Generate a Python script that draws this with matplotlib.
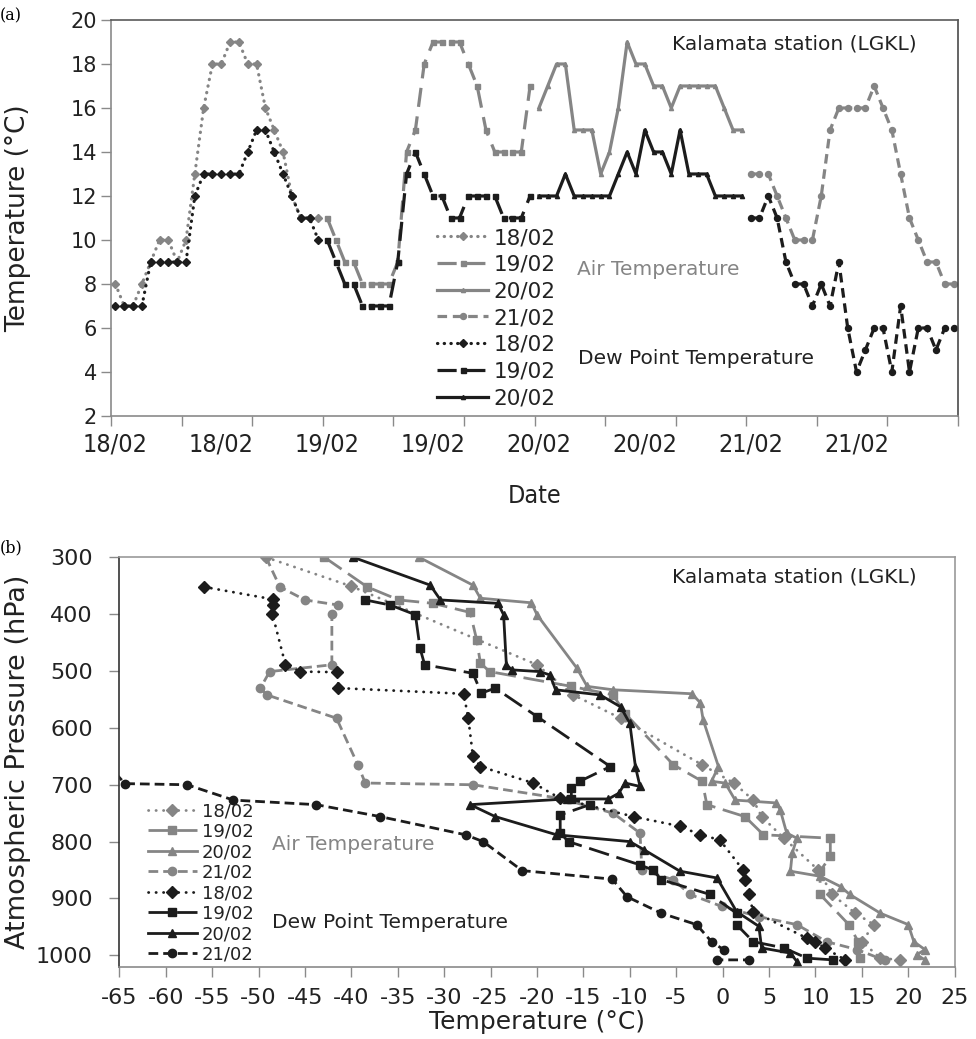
import numpy as np
import matplotlib
matplotlib.use('Agg')
import matplotlib.pyplot as plt
from matplotlib import font_manager
from matplotlib.ticker import FixedLocator, FixedFormatter, NullFormatter

plt.rcParams['font.family'] = ['DejaVu Sans']
plt.rcParams['axes.unicode_minus'] = False

_fonts = font_manager.fontManager.ttflist
_names = {f.name for f in _fonts}
HAS_NARROW = 'Liberation Sans Narrow' in _names
HAS_COND = any(f.name == 'DejaVu Sans' and str(f.stretch) in ('condensed', 'semi-condensed', '600', '700')
               for f in _fonts)
if HAS_NARROW:
    NARROW, STRETCH, NARROW_SIZE, DATE_SIZE = 'Liberation Sans Narrow', 'normal', 21, 20
elif HAS_COND:
    NARROW, STRETCH, NARROW_SIZE, DATE_SIZE = 'DejaVu Sans', 'condensed', 18, 18
else:
    NARROW, STRETCH, NARROW_SIZE, DATE_SIZE = 'DejaVu Sans', 'normal', 16, 17

# ---------------- panel (a): hourly surface observations ----------------
date_labels = ['18/02', '18/02', '19/02', '19/02', '20/02', '20/02', '21/02', '21/02']
day_names = ['18/02', '19/02', '20/02', '21/02']
hours_per_day = 24

air_1802 = [8, 7, 7, 8, 9, 10, 10, 9, 10, 13, 16, 18, 18, 19, 19, 18, 18, 16, 15, 14, 12, 11, 11, 11]
air_1902 = [11, 10, 9, 9, 8, 8, 8, 8, 9, 14, 15, 18, 19, 19, 19, 19, 18, 17, 15, 14, 14, 14, 14, 17]
air_2002 = [16, 17, 18, 18, 15, 15, 15, 13, 14, 16, 19, 18, 18, 17, 17, 16, 17, 17, 17, 17, 17, 16, 15, 15]
air_2102 = [13, 13, 13, 12, 11, 10, 10, 10, 12, 15, 16, 16, 16, 16, 17, 16, 15, 13, 11, 10, 9, 9, 8, 8]

dew_1802 = [7, 7, 7, 7, 9, 9, 9, 9, 9, 12, 13, 13, 13, 13, 13, 14, 15, 15, 14, 13, 12, 11, 11, 10]
dew_1902 = [10, 9, 8, 8, 7, 7, 7, 7, 9, 13, 14, 13, 12, 12, 11, 11, 12, 12, 12, 12, 11, 11, 11, 12]
dew_2002 = [12, 12, 12, 13, 12, 12, 12, 12, 12, 13, 14, 13, 15, 14, 14, 13, 15, 13, 13, 13, 12, 12, 12, 12]
dew_2102 = [11, 11, 12, 11, 9, 8, 8, 7, 8, 7, 9, 6, 4, 5, 6, 6, 4, 7, 4, 6, 6, 5, 6, 6]

# ---------------- panel (b): radiosonde profiles (T in degC, P in hPa) ----------------
air_1802_T = [-49.2, -40.0, -20.0, -16.1, -11.0, -2.2, 1.2, 3.3, 4.2, 6.6, 10.3, 11.8, 14.3, 16.3, 15.0, 17.0, 19.1]
air_1802_P = [300, 351, 489, 542, 583, 665, 697, 727, 756, 794, 850, 893, 926, 946, 976, 1005, 1008]

air_1902_T = [-42.9, -38.3, -34.9, -31.2, -27.2, -26.5, -26.1, -25.1, -16.3, -11.8, -10.5, -5.3, -2.2, -1.7,
              2.4, 4.4, 11.6, 11.6, 10.5, 10.5, 13.6, 14.6, 14.8]
air_1902_P = [300, 352, 375, 381, 397, 445, 486, 501, 527, 542, 575, 665, 694, 735,
              756, 788, 794, 826, 852, 893, 946, 976, 1005]

air_2002_T = [-32.7, -26.9, -26.1, -20.6, -20.0, -15.7, -14.6, -11.8, -3.3, -2.4, -2.1, -0.45, -1.2, 0.27,
              1.35, 5.8, 6.2, 6.9, 8.0, 7.5, 7.3, 10.5, 12.7, 13.7, 17.0, 20.0, 20.6, 21.8, 20.9, 21.8]
air_2002_P = [300, 349, 372, 380, 401, 495, 527, 533, 540, 556, 586, 668, 694, 697,
              727, 732, 744, 785, 794, 820, 852, 861, 879, 893, 926, 946, 976, 990, 999, 1008]

air_2102_T = [-49.2, -47.7, -45.0, -41.4, -42.1, -42.1, -48.8, -49.8, -49.1, -41.6, -39.3, -38.5, -26.9,
              -17.5, -11.8, -8.9, -8.7, -5.3, -3.5, -0.1, 3.9, 8.0, 11.2, 14.5, 17.5]
air_2102_P = [300, 352, 375, 384, 400, 489, 501, 530, 542, 583, 665, 697, 700,
              724, 750, 785, 850, 867, 893, 914, 932, 946, 976, 990, 1009]

dew_1802_T = [-55.9, -48.4, -48.4, -48.5, -47.1, -45.5, -41.5, -41.4, -27.9, -27.4, -26.9, -26.1, -20.4,
              -17.5, -9.6, -4.6, -2.4, -0.3, 2.2, 2.4, 2.8, 3.3, 9.1, 10.0, 11.0, 13.2]
dew_1802_P = [352, 374, 384, 400, 489, 501, 502, 530, 540, 583, 650, 668, 697,
              724, 756, 773, 788, 797, 850, 867, 893, 923, 970, 976, 987, 1008]

dew_1902_T = [-38.5, -35.8, -33.1, -32.6, -32.1, -26.9, -26.0, -24.5, -20.0, -12.1, -15.4, -16.3, -16.3,
              -14.3, -17.5, -17.5, -16.6, -8.9, -7.5, -6.6, -1.35, 1.5, 1.5, 3.3, 6.6, 9.1, 11.9]
dew_1902_P = [375, 384, 401, 460, 489, 504, 539, 530, 580, 668, 694, 706, 725,
              735, 753, 785, 800, 841, 850, 867, 893, 926, 946, 976, 987, 1005, 1008]

dew_2002_T = [-39.8, -31.5, -30.4, -24.2, -23.6, -23.3, -22.7, -19.7, -18.6, -18.0, -13.2, -11.0, -10.0,
              -9.4, -8.9, -10.5, -11.2, -12.3, -16.8, -27.2, -24.5, -17.9, -10.0, -8.5, -4.6, -0.6,
              1.5, 3.9, 4.2, 7.3, 8.0]
dew_2002_P = [300, 349, 375, 381, 401, 489, 498, 501, 507, 533, 542, 563, 592,
              668, 703, 697, 715, 725, 725, 735, 756, 788, 800, 814, 852, 864,
              923, 949, 987, 996, 1011]

dew_2102_T = [-66.5, -64.4, -57.7, -52.7, -43.8, -36.9, -27.7, -25.8, -21.6, -11.9, -10.3, -6.6, -2.8,
              -1.2, 0.1, -0.6, 2.8]
dew_2102_P = [660, 698, 700, 727, 735, 756, 788, 800, 851, 866, 897, 926, 946,
              976, 990, 1008, 1008]

# ---------------- styling ----------------
GRAY = '#858585'
BLACK = '#1c1c1c'
W, H = 976, 1039

top_styles = {
    '18/02': dict(ls=(0, (0.1, 2.0)), marker='D', ms=4.0, dash_capstyle='round'),
    '19/02': dict(ls=(0, (6, 3)), marker='s', ms=3.6),
    '20/02': dict(ls='-', marker='^', ms=3.0),
    '21/02': dict(ls=(0, (3, 1.8)), marker='o', ms=4.3),
}
bot_styles = {
    '18/02': dict(ls=(0, (0.1, 2.6)), marker='D', ms=6.0, dash_capstyle='round'),
    '19/02': dict(ls=(0, (7.5, 2.8)), marker='s', ms=5.5),
    '20/02': dict(ls='-', marker='^', ms=5.5),
    '21/02': dict(ls=(0, (3.5, 1.8)), marker='o', ms=6.0),
}

fig = plt.figure(figsize=(W / 100, H / 100), dpi=100)


def fx(px):
    return px / W


def fy(py):
    return 1 - py / H


# ================= panel (a) =================
L1, R1 = 111, 958
ax1 = fig.add_axes([fx(L1), fy(416), fx(R1) - fx(L1), fy(20) - fy(416)])
air_days = [air_1802, air_1902, air_2002, air_2102]
dew_days = [dew_1802, dew_1902, dew_2002, dew_2102]
for k, (name, vals) in enumerate(zip(day_names, air_days)):
    x = k * hours_per_day + np.arange(len(vals)) + 0.5
    ax1.plot(x, vals, color=GRAY, lw=2.3, mfc=GRAY, mec=GRAY, label=name, **top_styles[name])
for k, (name, vals) in enumerate(zip(day_names, dew_days)):
    x = k * hours_per_day + np.arange(len(vals)) + 0.5
    lab = name if k < 3 else '_nolegend_'
    ax1.plot(x, vals, color=BLACK, lw=2.3, mfc=BLACK, mec=BLACK, label=lab, **top_styles[name])

ax1.set_xlim(0, 4 * hours_per_day)
ax1.set_ylim(2, 20)
ax1.set_yticks(np.arange(2, 21, 2))
ax1.xaxis.set_major_locator(FixedLocator(np.arange(0, 97, 8)))
ax1.xaxis.set_major_formatter(NullFormatter())
ax1.xaxis.set_minor_locator(FixedLocator(np.arange(len(date_labels)) * 12 + 0.5))
ax1.xaxis.set_minor_formatter(FixedFormatter(date_labels))
ax1.tick_params(axis='x', which='major', direction='out', length=7, color='#8a8a8a', width=1)
ax1.tick_params(axis='x', which='minor', length=0, pad=12, labelsize=NARROW_SIZE, labelcolor='#222222')
for lab in ax1.xaxis.get_minorticklabels():
    lab.set_fontfamily(NARROW)
    lab.set_fontstretch(STRETCH)
ax1.tick_params(axis='y', direction='out', length=7, color='#8a8a8a', width=1, pad=3,
                labelsize=15, labelcolor='#222222')
for side, col in [('left', '#8a8a8a'), ('bottom', '#8a8a8a'), ('top', '#5a5a5a'), ('right', '#4a4a4a')]:
    ax1.spines[side].set_color(col)
    ax1.spines[side].set_linewidth(1.2)

ax1.set_ylabel('Temperature (°C)', fontsize=19, color='#222222')
ax1.set_xlabel('Date', fontsize=DATE_SIZE, fontfamily=NARROW, fontstretch=STRETCH, labelpad=20, color='#222222')
ax1.yaxis.set_label_coords((fx(31) - fx(L1)) / (fx(R1) - fx(L1)), 0.5)

leg1 = ax1.legend(loc='upper left', bbox_to_anchor=(fx(437), fy(228)), bbox_transform=fig.transFigure,
                  frameon=False, fontsize=15.5, handlelength=2.37, handletextpad=0.25,
                  labelspacing=0.31, borderpad=0, borderaxespad=0)
for t in leg1.get_texts():
    t.set_color('#222222')

fig.text(fx(672), fy(44), 'Kalamata station (LGKL)', fontsize=14.5, va='center', ha='left', color='#222222')
fig.text(fx(577), fy(270), 'Air Temperature', fontsize=14.5, va='center', ha='left', color=GRAY)
fig.text(fx(578), fy(358), 'Dew Point Temperature', fontsize=14.5, va='center', ha='left', color='#222222')
fig.text(fx(0), fy(16), '(a)', fontsize=11.5, family='DejaVu Serif', va='center', ha='left')

# ================= panel (b) =================
L2, R2 = 119.3, 954.7
ax2 = fig.add_axes([fx(L2), fy(966.7), fx(R2) - fx(L2), fy(557.3) - fy(966.7)])
air_prof = [(air_1802_T, air_1802_P), (air_1902_T, air_1902_P), (air_2002_T, air_2002_P), (air_2102_T, air_2102_P)]
dew_prof = [(dew_1802_T, dew_1802_P), (dew_1902_T, dew_1902_P), (dew_2002_T, dew_2002_P), (dew_2102_T, dew_2102_P)]
for name, (t, p) in zip(day_names, air_prof):
    ax2.plot(t, p, color=GRAY, lw=2.0, mfc=GRAY, mec=GRAY, label=name, **bot_styles[name])
for name, (t, p) in zip(day_names, dew_prof):
    ax2.plot(t, p, color=BLACK, lw=2.0, mfc=BLACK, mec=BLACK, label=name, **bot_styles[name])

ax2.set_xlim(-65, 25)
ax2.set_ylim(1020, 300)
ax2.set_xticks(np.arange(-65, 26, 5))
ax2.set_yticks(np.arange(300, 1001, 100))
ax2.tick_params(axis='both', direction='out', length=7, color='#8a8a8a', width=1,
                labelsize=16, labelcolor='#222222')
ax2.tick_params(axis='x', pad=8)
ax2.tick_params(axis='y', pad=12)
for side, col in [('left', '#333333'), ('bottom', '#8a8a8a'), ('top', '#9a9a9a'), ('right', '#9a9a9a')]:
    ax2.spines[side].set_color(col)
    ax2.spines[side].set_linewidth(1.2)

ax2.set_xlabel('Temperature (°C)', fontsize=18, labelpad=2, color='#222222')
ax2.set_ylabel('Atmospheric Pressure (hPa)', fontsize=19.5, color='#222222')
ax2.yaxis.set_label_coords((fx(31) - fx(L2)) / (fx(R2) - fx(L2)), 0.5)

leg2 = ax2.legend(loc='upper left', bbox_to_anchor=(fx(148), fy(802)), bbox_transform=fig.transFigure,
                  frameon=False, fontsize=13, handlelength=2.7, handletextpad=0.28,
                  labelspacing=0.14, borderpad=0, borderaxespad=0)
for t in leg2.get_texts():
    t.set_color('#222222')

fig.text(fx(672), fy(577), 'Kalamata station (LGKL)', fontsize=14.5, va='center', ha='left', color='#222222')
fig.text(fx(272), fy(845), 'Air Temperature', fontsize=14.5, va='center', ha='left', color=GRAY)
fig.text(fx(272), fy(923), 'Dew Point Temperature', fontsize=14.5, va='center', ha='left', color='#222222')
fig.text(fx(0), fy(548), '(b)', fontsize=11.5, family='DejaVu Serif', va='center', ha='left')

fig.savefig('out.png', dpi=100)
